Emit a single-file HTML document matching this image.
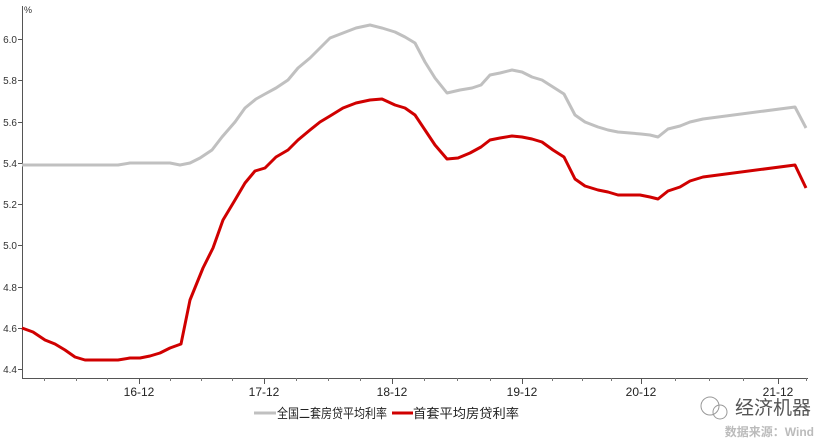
<!DOCTYPE html><html><head><meta charset="utf-8"><style>
body{margin:0;background:#fff;width:830px;height:441px;overflow:hidden}
text{font-family:"Liberation Sans","Noto Sans CJK SC",sans-serif}
</style></head><body>
<svg width="830" height="441" viewBox="0 0 830 441" xmlns="http://www.w3.org/2000/svg">
<g stroke="#555" stroke-width="1" fill="none">
<line x1="22.5" y1="6" x2="22.5" y2="378"/>
<line x1="22" y1="378.5" x2="808" y2="378.5"/>
<line x1="18" y1="39.5" x2="22" y2="39.5"/><line x1="18" y1="80.5" x2="22" y2="80.5"/><line x1="18" y1="122.5" x2="22" y2="122.5"/><line x1="18" y1="163.5" x2="22" y2="163.5"/><line x1="18" y1="204.5" x2="22" y2="204.5"/><line x1="18" y1="245.5" x2="22" y2="245.5"/><line x1="18" y1="287.5" x2="22" y2="287.5"/><line x1="18" y1="328.5" x2="22" y2="328.5"/><line x1="18" y1="369.5" x2="22" y2="369.5"/>
<line x1="139.5" y1="378" x2="139.5" y2="384"/><line x1="264.5" y1="378" x2="264.5" y2="384"/><line x1="392.5" y1="378" x2="392.5" y2="384"/><line x1="522.5" y1="378" x2="522.5" y2="384"/><line x1="641.5" y1="378" x2="641.5" y2="384"/><line x1="778.5" y1="378" x2="778.5" y2="384"/>
</g>
<g stroke="#777" stroke-width="1">
<line x1="44.5" y1="378" x2="44.5" y2="381"/><line x1="76.5" y1="378" x2="76.5" y2="381"/><line x1="107.5" y1="378" x2="107.5" y2="381"/><line x1="170.5" y1="378" x2="170.5" y2="381"/><line x1="201.5" y1="378" x2="201.5" y2="381"/><line x1="232.5" y1="378" x2="232.5" y2="381"/><line x1="296.5" y1="378" x2="296.5" y2="381"/><line x1="328.5" y1="378" x2="328.5" y2="381"/><line x1="360.5" y1="378" x2="360.5" y2="381"/><line x1="424.5" y1="378" x2="424.5" y2="381"/><line x1="457.5" y1="378" x2="457.5" y2="381"/><line x1="490.5" y1="378" x2="490.5" y2="381"/><line x1="552.5" y1="378" x2="552.5" y2="381"/><line x1="582.5" y1="378" x2="582.5" y2="381"/><line x1="611.5" y1="378" x2="611.5" y2="381"/><line x1="675.5" y1="378" x2="675.5" y2="381"/><line x1="709.5" y1="378" x2="709.5" y2="381"/><line x1="743.5" y1="378" x2="743.5" y2="381"/><line x1="806.5" y1="378" x2="806.5" y2="381"/>
</g>
<g font-size="10" fill="#333" text-anchor="end">
<text x="17" y="43">6.0</text><text x="17" y="84">5.8</text><text x="17" y="126">5.6</text><text x="17" y="167">5.4</text><text x="17" y="208">5.2</text><text x="17" y="249">5.0</text><text x="17" y="291">4.8</text><text x="17" y="332">4.6</text><text x="17" y="373">4.4</text>
</g>
<text x="24" y="13" font-size="9" fill="#333">%</text>
<g font-size="12" fill="#222" text-anchor="middle">
<text x="139" y="396">16-12</text><text x="264" y="396">17-12</text><text x="392" y="396">18-12</text><text x="522" y="396">19-12</text><text x="641" y="396">20-12</text><text x="778" y="396">21-12</text>
</g>
<polyline fill="none" stroke="#c0c0c0" stroke-width="3" stroke-linejoin="round" points="22,165 118,165 130,163 170,163 180,165 190,163 200,158 212,150 222,137 235,122 245,108 256,99 265,94 276,88 288,80 298,68 310,58 320,48 330,38 343,33 356,28 370,25 382,28 395,32 405,37 415,43 425,62 435,78 447,93 460,90 472,88 481,85 490,75 500,73 512,70 522,72 532,77 542,80 553,87 564,94 575,115 585,122 598,127 608,130 618,132 630,133 641,134 650,135 658,137 668,129 680,126 690,122 703,119 795,107 806,128"/>
<polyline fill="none" stroke="#d00000" stroke-width="3" stroke-linejoin="round" points="22,328 33,332 45,340 55,344 65,350 75,357 85,360 118,360 130,358 140,358 150,356 160,353 170,348 181,344 190,300 203,268 213,248 223,220 235,200 245,183 255,171 265,168 276,157 288,150 298,140 310,130 320,122 330,116 343,108 356,103 370,100 382,99 395,105 405,108 415,115 425,130 435,145 447,159 458,158 470,153 481,147 490,140 500,138 512,136 522,137 532,139 542,142 553,150 564,157 575,179 585,186 598,190 608,192 618,195 640,195 650,197 658,199 668,191 680,187 690,181 703,177 795,165 806,188"/>
<line x1="254" y1="413" x2="276" y2="413" stroke="#c0c0c0" stroke-width="3"/>
<text x="277" y="418" font-size="13" fill="#222" textLength="110" lengthAdjust="spacingAndGlyphs">全国二套房贷平均利率</text>
<line x1="392" y1="413" x2="413" y2="413" stroke="#d00000" stroke-width="3"/>
<text x="413" y="418" font-size="13" fill="#222" textLength="106" lengthAdjust="spacingAndGlyphs">首套平均房贷利率</text>
<text x="735" y="414" font-size="19" fill="#555">经济机器</text>
<circle cx="710" cy="406" r="9" fill="none" stroke="#999" stroke-width="1"/>
<circle cx="720" cy="412" r="7" fill="none" stroke="#999" stroke-width="1"/>
<text x="814" y="436" font-size="12" font-weight="bold" fill="#bbb" text-anchor="end">数据来源：Wind</text>
</svg>
</body></html>
